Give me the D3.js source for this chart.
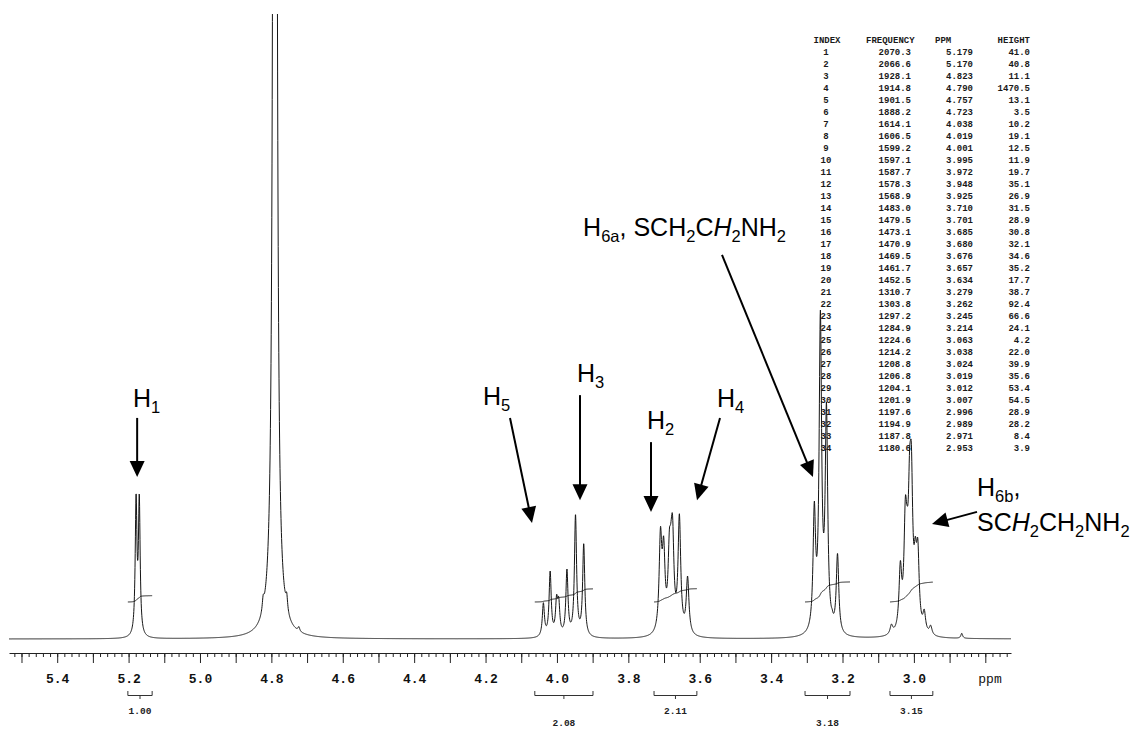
<!DOCTYPE html>
<html><head><meta charset="utf-8">
<script src="https://cdn.jsdelivr.net/npm/d3@7"></script>
<style>
html,body{margin:0;padding:0;background:#fff;}
svg{display:block;}
</style></head><body>
<svg id="c" width="1144" height="731"></svg>
<script>
// ---------------- data ----------------
const peakIndex = d3.range(1, 35);
const peakFreq = [2070.3, 2066.6, 1928.1, 1914.8, 1901.5, 1888.2, 1614.1, 1606.5, 1599.2, 1597.1, 1587.7, 1578.3, 1568.9, 1483.0, 1479.5, 1473.1, 1470.9, 1469.5, 1461.7, 1452.5, 1310.7, 1303.8, 1297.2, 1284.9, 1224.6, 1214.2, 1208.8, 1206.8, 1204.1, 1201.9, 1197.6, 1194.9, 1187.8, 1180.6];
const peakPpm = [5.179, 5.170, 4.823, 4.790, 4.757, 4.723, 4.038, 4.019, 4.001, 3.995, 3.972, 3.948, 3.925, 3.710, 3.701, 3.685, 3.680, 3.676, 3.657, 3.634, 3.279, 3.262, 3.245, 3.214, 3.063, 3.038, 3.024, 3.019, 3.012, 3.007, 2.996, 2.989, 2.971, 2.953];
const peakHeight = [41.0, 40.8, 11.1, 1470.5, 13.1, 3.5, 10.2, 19.1, 12.5, 11.9, 19.7, 35.1, 26.9, 31.5, 28.9, 30.8, 32.1, 34.6, 35.2, 17.7, 38.7, 92.4, 66.6, 24.1, 4.2, 22.0, 39.9, 35.6, 53.4, 54.5, 28.9, 28.2, 8.4, 3.9];
// half-widths (ppm) of each line as seen in the trace
const peakWidth = [0.0029, 0.0029, 0.003, 0.0026, 0.003, 0.003,
  0.0036, 0.0036, 0.0036, 0.0036, 0.0036, 0.0036, 0.0036,
  0.0045, 0.0045, 0.0045, 0.0045, 0.0045, 0.0045, 0.0045,
  0.0042, 0.0042, 0.0042, 0.0042,
  0.0045, 0.0045, 0.0045, 0.0045, 0.0045, 0.0045, 0.0045, 0.0045, 0.0045, 0.0045];
// small unlisted features visible in the trace
const extraPpm = [2.866, 3.229];
const extraHeight = [1.6, 4.0];

const tickLabels = ['5.4', '5.2', '5.0', '4.8', '4.6', '4.4', '4.2', '4.0', '3.8', '3.6', '3.4', '3.2', '3.0'];

const integralValue = [1.00, 2.08, 2.11, 3.18, 3.15];
const integralFrom = [5.202, 4.062, 3.728, 3.305, 3.067];
const integralTo = [5.134, 3.899, 3.608, 3.179, 2.947];

// ---------------- layout ----------------
const svg = d3.select('#c');
const x = d3.scaleLinear().domain([5.535, 2.728]).range([9, 1011]);
const y = d3.scaleLinear().domain([0, 175]).range([639, 16]);
const axisY = 653;

svg.append('defs').append('clipPath').attr('id', 'clip')
  .append('rect').attr('x', 0).attr('y', 14).attr('width', 1144).attr('height', 717);

// ---------------- peak table ----------------
const tbl = svg.append('g').attr('font-family', "'Liberation Mono','Courier New',monospace")
  .attr('font-size', 9).attr('font-weight', 'bold').attr('fill', '#1a1a1a');
const hdrY = 43, rowH = 12;
tbl.append('text').attr('x', 827).attr('y', hdrY).attr('text-anchor', 'middle').text('INDEX');
tbl.append('text').attr('x', 866).attr('y', hdrY).text('FREQUENCY');
tbl.append('text').attr('x', 935).attr('y', hdrY).text('PPM');
tbl.append('text').attr('x', 1030).attr('y', hdrY).attr('text-anchor', 'end').text('HEIGHT');
peakIndex.forEach((n, i) => {
  const yy = hdrY + rowH * (i + 1);
  tbl.append('text').attr('x', 826).attr('y', yy).attr('text-anchor', 'middle').text(n);
  tbl.append('text').attr('x', 911).attr('y', yy).attr('text-anchor', 'end').text(peakFreq[i].toFixed(1));
  tbl.append('text').attr('x', 973).attr('y', yy).attr('text-anchor', 'end').text(peakPpm[i].toFixed(3));
  tbl.append('text').attr('x', 1030).attr('y', yy).attr('text-anchor', 'end').text(peakHeight[i].toFixed(1));
});

// ---------------- spectrum model from the peak list ----------------
const allPpm = peakPpm.concat(extraPpm);
const allH = peakHeight.concat(extraHeight);
const allW = peakWidth.concat(extraPpm.map(() => 0.003));
const fixedIdx = allH.indexOf(d3.max(allH));
const lor = (p, c, w) => 1 / (1 + ((p - c) / w) ** 2);
const amp = allH.slice();
// projected Gauss-Seidel so that the trace passes through the listed heights
for (let it = 0; it < 300; it++) {
  for (let i = 0; i < allPpm.length; i++) {
    if (i === fixedIdx) continue;
    const S = d3.sum(allPpm, (c, j) => amp[j] * lor(allPpm[i], c, allW[j]));
    amp[i] = Math.max(0.3 * allH[i], amp[i] + 0.8 * (allH[i] - S));
  }
}
const f = p => d3.sum(allPpm, (c, j) => amp[j] * lor(p, c, allW[j]));

const [pxL, pxR] = x.range();
const samples = d3.range(pxL, pxR + 0.001, 0.2).map(px => x.invert(px));
const spec = samples.map(p => [p, f(p)]);

svg.append('path').datum(spec)
  .attr('clip-path', 'url(#clip)')
  .attr('fill', 'none').attr('stroke', '#151515').attr('stroke-width', 1)
  .attr('d', d3.line().x(d => x(d[0])).y(d => y(d[1])));

// ---------------- integral traces ----------------
const intBase = 10.4, intPerUnit = 1.77;
integralValue.forEach((v, k) => {
  const ps = d3.range(0, 301).map(i => integralFrom[k] + (integralTo[k] - integralFrom[k]) * i / 300);
  let cum = 0; const cs = ps.map(p => (cum += f(p)));
  const tot = cum;
  const pts = ps.map((p, i) => [p, intBase + v * intPerUnit * cs[i] / tot]);
  svg.append('path').datum(pts)
    .attr('fill', 'none').attr('stroke', '#151515').attr('stroke-width', 1)
    .attr('d', d3.line().x(d => x(d[0])).y(d => y(d[1])));
});

// ---------------- axis ----------------
const minorTicks = d3.range(137, 277).map(i => +(i * 0.02).toFixed(2));
const majorTicks = d3.range(28, 56).map(i => i / 10);
const labelTicks = tickLabels.map(Number);
const gMinor = svg.append('g').attr('transform', `translate(0,${axisY})`).style('color', '#222')
  .call(d3.axisBottom(x).tickValues(minorTicks).tickSize(4).tickSizeOuter(0).tickFormat(''));
const gMajor = svg.append('g').attr('transform', `translate(0,${axisY})`).style('color', '#222')
  .call(d3.axisBottom(x).tickValues(majorTicks).tickSize(10).tickSizeOuter(0).tickFormat(''));
gMajor.select('.domain').remove();
const gLab = svg.append('g').attr('transform', `translate(0,${axisY})`).style('color', '#111')
  .call(d3.axisBottom(x).tickValues(labelTicks).tickSize(0).tickPadding(21).tickSizeOuter(0)
    .tickFormat((d, i) => tickLabels[i]));
gLab.select('.domain').remove();
gLab.selectAll('text').attr('font-family', "'Liberation Mono','Courier New',monospace")
  .attr('font-size', 13).attr('font-weight', 'bold');
svg.append('text').attr('x', 990).attr('y', 683).attr('text-anchor', 'middle')
  .attr('font-family', "'Liberation Mono','Courier New',monospace").attr('font-size', 13)
  .attr('fill', '#111').text('ppm');

// ---------------- integration brackets ----------------
const br = svg.append('g').attr('stroke', '#333').attr('fill', 'none').attr('stroke-width', 1);
integralValue.forEach((v, k) => {
  const x0 = x(integralFrom[k]), x1 = x(integralTo[k]), xm = (x0 + x1) / 2;
  br.append('path').attr('d', `M${x0},691V695.5H${x1}V691M${xm},695.5V699`);
  svg.append('text').attr('x', xm).attr('y', k % 2 ? 725.5 : 714).attr('text-anchor', 'middle')
    .attr('font-family', "'Liberation Mono','Courier New',monospace").attr('font-size', 9.5)
    .attr('font-weight', 'bold').attr('fill', '#222').text(v.toFixed(2));
});

// ---------------- annotations ----------------
const annotations = [
  {text: 'H_{1}', at: [5.1876, 65.2], arrow: [5.176, 62.1, 5.176, 45.5]},
  {text: 'H_{5}', at: [4.2071, 65.7], arrow: [4.1315, 62.1, 4.0699, 32.6]},
  {text: 'H_{3}', at: [3.9438, 72.2], arrow: [3.9354, 68.5, 3.9354, 39.0]},
  {text: 'H_{2}', at: [3.7477, 59.0], arrow: [3.7365, 55.3, 3.7365, 35.7]},
  {text: 'H_{4}', at: [3.5516, 65.2], arrow: [3.5432, 62.1, 3.6076, 39.0]},
  {text: 'H_{6a}, SCH_{2}C*H*_{2}NH_{2}', at: [3.3583, 113.2], anchor: 'end', arrow: [3.5376, 107.9, 3.2827, 45.5]},
  {text: 'H_{6b},', at: [2.8232, 40.2], arrow: [2.8232, 35.7, 2.9493, 32.3]},
  {text: 'SC*H*_{2}CH_{2}NH_{2}', at: [2.8232, 30.4]}
];
const FS = 25;
function addRich(sel, str, size) {
  const re = /_\{([^}]*)\}|\*([^*]*)\*|([^_*]+)/g;
  let m, shifted = false;
  const sh = size * 0.24;
  while ((m = re.exec(str))) {
    const t = sel.append('tspan');
    if (m[1] !== undefined) {
      t.text(m[1]).attr('font-size', size * 0.66);
      if (!shifted) t.attr('dy', sh);
      shifted = true;
    } else {
      t.text(m[2] !== undefined ? m[2] : m[3]);
      if (m[2] !== undefined) t.attr('font-style', 'italic');
      if (shifted) { t.attr('dy', -sh); shifted = false; }
    }
  }
}
const ga = svg.append('g');
annotations.forEach(a => {
  const t = ga.append('text').attr('x', x(a.at[0])).attr('y', y(a.at[1]))
    .attr('font-family', "'Liberation Sans',Arial,sans-serif").attr('font-size', FS)
    .attr('fill', '#000').attr('text-anchor', a.anchor || 'start');
  addRich(t, a.text, FS);
  if (a.arrow) {
    const x0 = x(a.arrow[0]), y0 = y(a.arrow[1]), x1 = x(a.arrow[2]), y1 = y(a.arrow[3]);
    const L = Math.hypot(x1 - x0, y1 - y0), ux = (x1 - x0) / L, uy = (y1 - y0) / L;
    const hl = 16, hw = 7.5;
    const bx = x1 - ux * hl, by = y1 - uy * hl;
    ga.append('line').attr('x1', x0).attr('y1', y0).attr('x2', bx + ux * 2).attr('y2', by + uy * 2)
      .attr('stroke', '#000').attr('stroke-width', 2);
    ga.append('path').attr('fill', '#000')
      .attr('d', `M${x1},${y1}L${bx - uy * hw},${by + ux * hw}L${bx + uy * hw},${by - ux * hw}Z`);
  }
});
</script>
</body></html>
